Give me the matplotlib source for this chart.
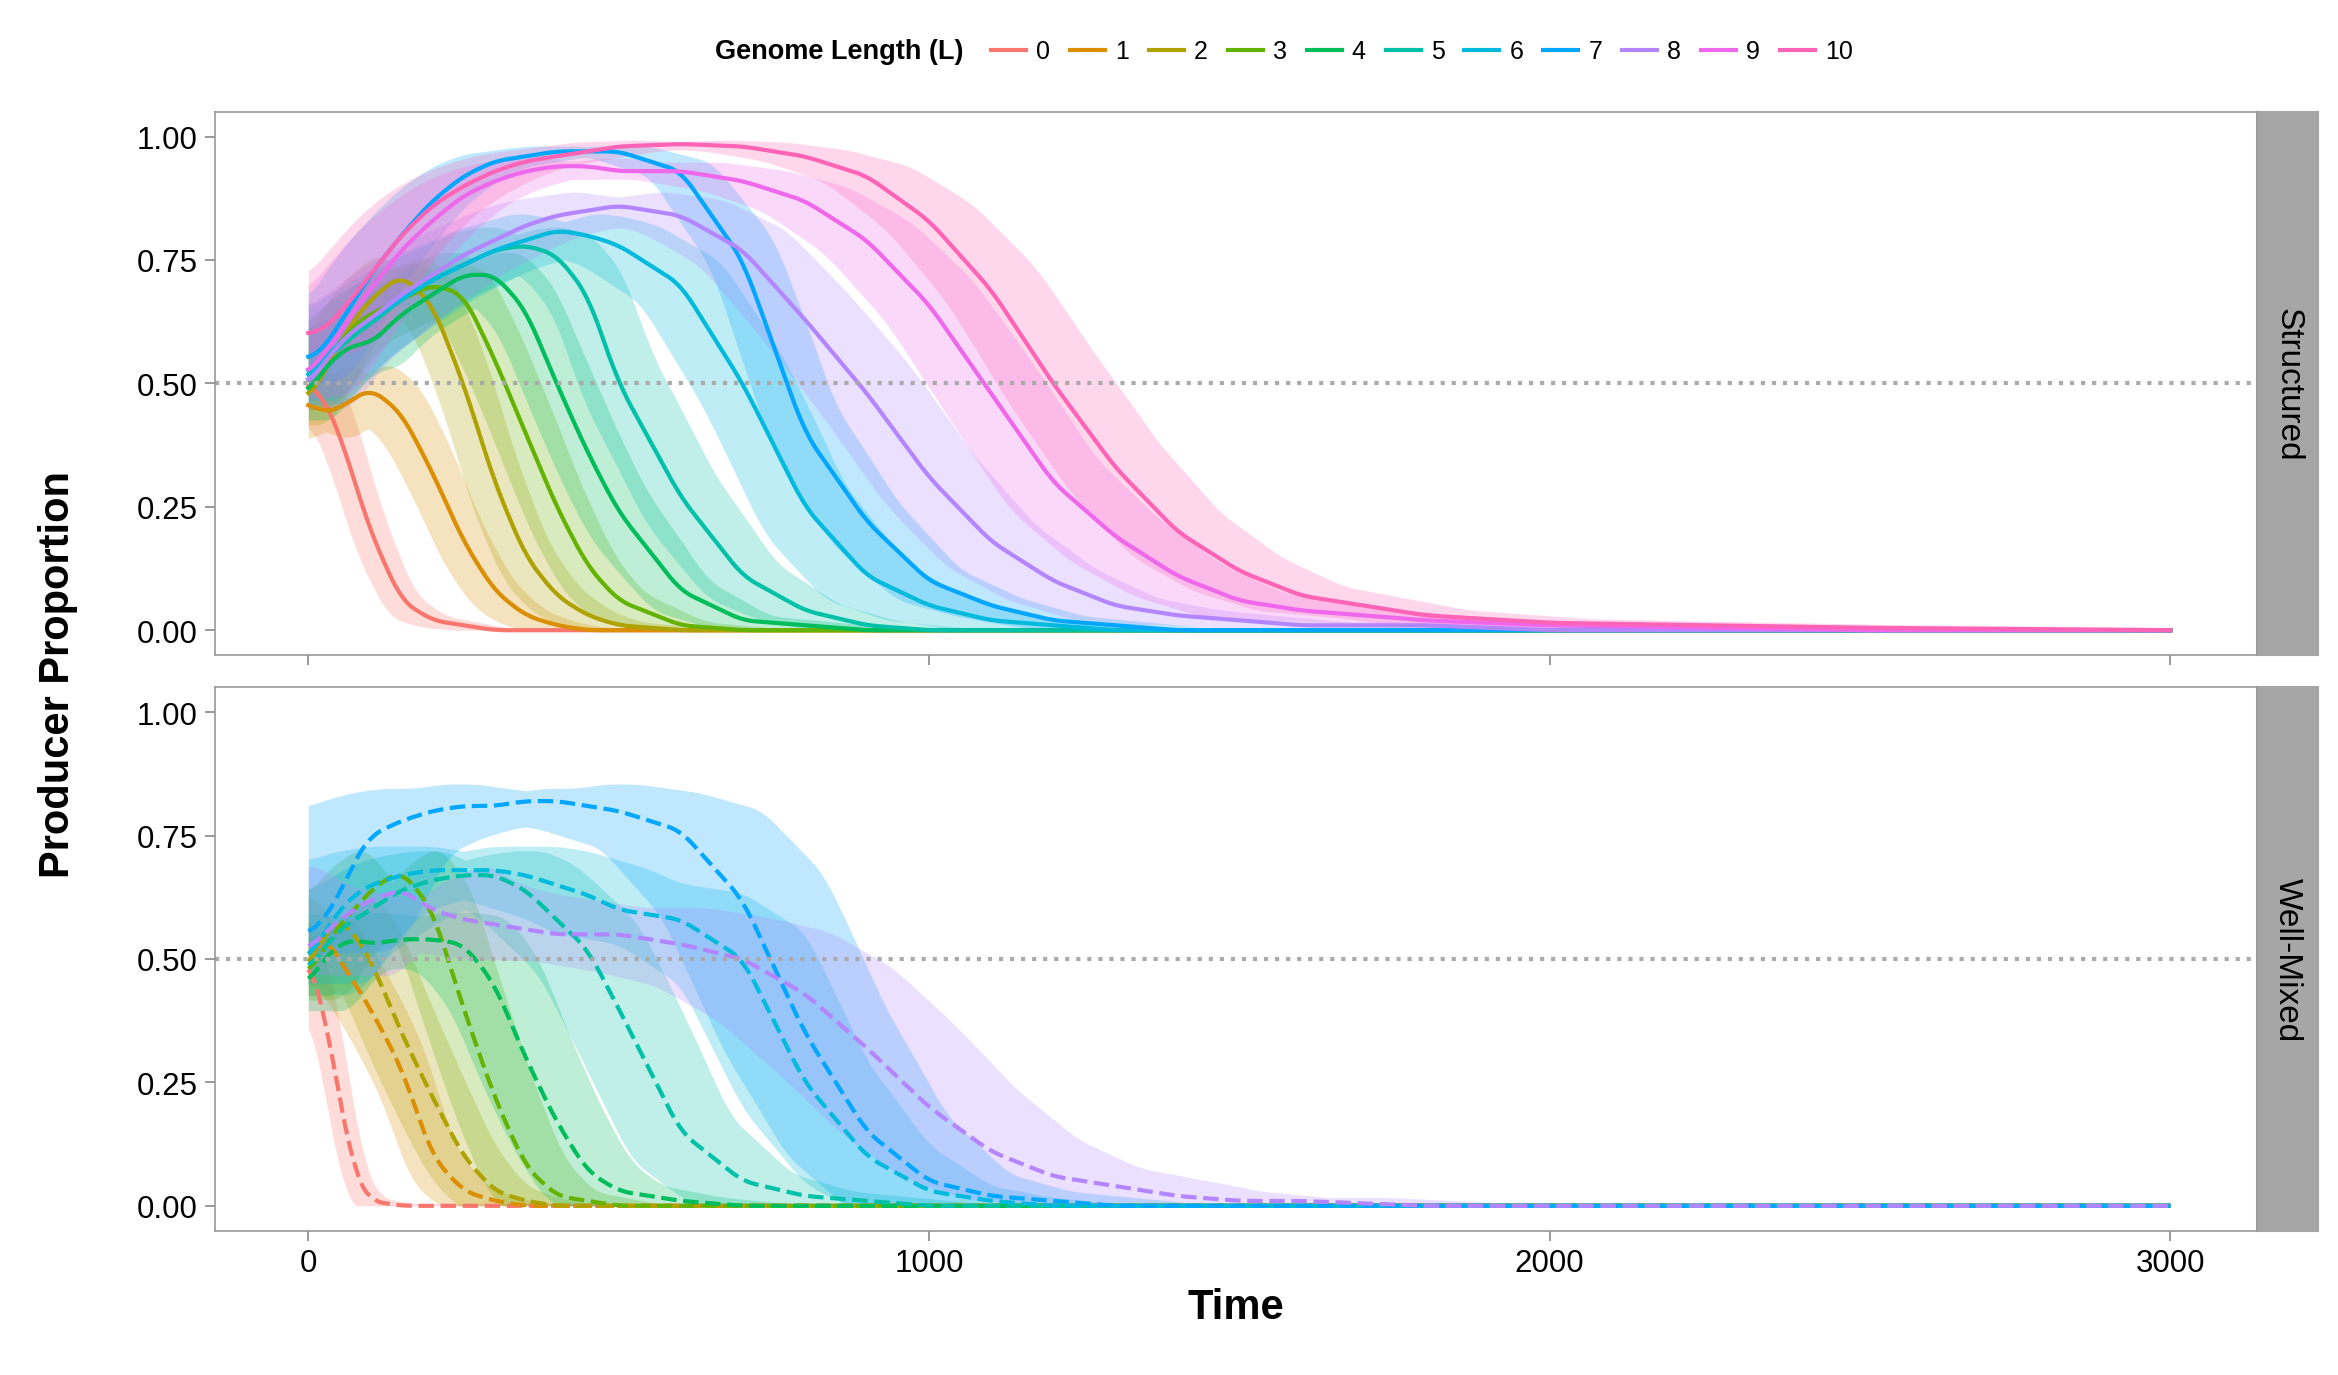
import numpy as np
import matplotlib.pyplot as plt

# time grid the curves were read at
t = [0, 25, 50, 75, 100, 150, 200, 250, 300, 350, 400, 450, 500, 600, 700, 800,
     900, 1000, 1100, 1200, 1300, 1400, 1500, 1600, 1800, 2000, 2500, 3000]

lengths = list(range(11))
colors = ['#F8766D', '#DB8E00', '#AEA200', '#64B200', '#00BD5C', '#00C1A7',
          '#00BADE', '#00A6FF', '#B385FF', '#EF67EB', '#FF63B6']

structured = {
    0: [0.50, 0.47, 0.40, 0.30, 0.20, 0.06, 0.02, 0.01, 0, 0, 0, 0, 0, 0, 0, 0, 0, 0, 0, 0, 0, 0, 0, 0, 0, 0, 0, 0],
    1: [0.46, 0.44, 0.45, 0.47, 0.49, 0.44, 0.32, 0.18, 0.08, 0.03, 0.01, 0, 0, 0, 0, 0, 0, 0, 0, 0, 0, 0, 0, 0, 0, 0, 0, 0],
    2: [0.47, 0.52, 0.58, 0.63, 0.67, 0.72, 0.66, 0.50, 0.30, 0.15, 0.07, 0.03, 0.01, 0, 0, 0, 0, 0, 0, 0, 0, 0, 0, 0, 0, 0, 0, 0],
    3: [0.50, 0.54, 0.58, 0.62, 0.64, 0.67, 0.70, 0.68, 0.55, 0.40, 0.25, 0.13, 0.06, 0.01, 0, 0, 0, 0, 0, 0, 0, 0, 0, 0, 0, 0, 0, 0],
    4: [0.48, 0.53, 0.56, 0.58, 0.58, 0.64, 0.68, 0.72, 0.72, 0.65, 0.50, 0.36, 0.24, 0.08, 0.02, 0.01, 0, 0, 0, 0, 0, 0, 0, 0, 0, 0, 0, 0],
    5: [0.52, 0.55, 0.57, 0.60, 0.62, 0.67, 0.71, 0.74, 0.77, 0.78, 0.76, 0.68, 0.50, 0.27, 0.11, 0.04, 0.01, 0, 0, 0, 0, 0, 0, 0, 0, 0, 0, 0],
    6: [0.51, 0.55, 0.58, 0.61, 0.63, 0.67, 0.71, 0.74, 0.77, 0.79, 0.81, 0.80, 0.78, 0.70, 0.50, 0.25, 0.11, 0.05, 0.02, 0.01, 0, 0, 0, 0, 0, 0, 0, 0],
    7: [0.55, 0.57, 0.62, 0.67, 0.72, 0.80, 0.87, 0.92, 0.95, 0.96, 0.97, 0.97, 0.97, 0.93, 0.75, 0.40, 0.22, 0.10, 0.05, 0.02, 0.01, 0, 0, 0, 0, 0, 0, 0],
    8: [0.50, 0.54, 0.58, 0.61, 0.63, 0.68, 0.72, 0.76, 0.79, 0.82, 0.84, 0.85, 0.86, 0.84, 0.77, 0.63, 0.48, 0.31, 0.18, 0.10, 0.05, 0.03, 0.02, 0.01, 0.01, 0, 0, 0],
    9: [0.52, 0.56, 0.60, 0.65, 0.69, 0.77, 0.83, 0.88, 0.91, 0.93, 0.94, 0.94, 0.93, 0.93, 0.91, 0.87, 0.79, 0.66, 0.48, 0.30, 0.19, 0.11, 0.06, 0.04, 0.02, 0.01, 0, 0],
    10: [0.60, 0.61, 0.64, 0.68, 0.72, 0.80, 0.86, 0.90, 0.93, 0.95, 0.96, 0.97, 0.98, 0.985, 0.98, 0.96, 0.92, 0.83, 0.69, 0.50, 0.33, 0.20, 0.12, 0.07, 0.03, 0.015, 0.005, 0],
}

wellmixed = {
    0: [0.50, 0.40, 0.22, 0.06, 0.01, 0, 0, 0, 0, 0, 0, 0, 0, 0, 0, 0, 0, 0, 0, 0, 0, 0, 0, 0, 0, 0, 0, 0],
    1: [0.50, 0.55, 0.50, 0.45, 0.40, 0.28, 0.10, 0.03, 0.01, 0, 0, 0, 0, 0, 0, 0, 0, 0, 0, 0, 0, 0, 0, 0, 0, 0, 0, 0],
    2: [0.48, 0.55, 0.58, 0.55, 0.50, 0.35, 0.22, 0.10, 0.03, 0.01, 0, 0, 0, 0, 0, 0, 0, 0, 0, 0, 0, 0, 0, 0, 0, 0, 0, 0],
    3: [0.47, 0.52, 0.57, 0.60, 0.64, 0.68, 0.60, 0.40, 0.22, 0.08, 0.02, 0.01, 0, 0, 0, 0, 0, 0, 0, 0, 0, 0, 0, 0, 0, 0, 0, 0],
    4: [0.45, 0.50, 0.53, 0.54, 0.53, 0.54, 0.54, 0.53, 0.45, 0.30, 0.17, 0.07, 0.03, 0.01, 0, 0, 0, 0, 0, 0, 0, 0, 0, 0, 0, 0, 0, 0],
    5: [0.48, 0.52, 0.56, 0.58, 0.60, 0.64, 0.66, 0.67, 0.67, 0.64, 0.58, 0.52, 0.40, 0.15, 0.05, 0.02, 0.01, 0, 0, 0, 0, 0, 0, 0, 0, 0, 0, 0],
    6: [0.50, 0.55, 0.60, 0.63, 0.65, 0.67, 0.68, 0.68, 0.68, 0.67, 0.65, 0.63, 0.60, 0.58, 0.50, 0.25, 0.10, 0.03, 0.01, 0, 0, 0, 0, 0, 0, 0, 0, 0],
    7: [0.55, 0.58, 0.63, 0.70, 0.75, 0.78, 0.80, 0.81, 0.81, 0.82, 0.82, 0.81, 0.80, 0.76, 0.62, 0.35, 0.15, 0.05, 0.02, 0.01, 0, 0, 0, 0, 0, 0, 0, 0],
    8: [0.52, 0.55, 0.58, 0.60, 0.62, 0.64, 0.60, 0.58, 0.57, 0.56, 0.55, 0.55, 0.55, 0.53, 0.50, 0.43, 0.32, 0.20, 0.11, 0.06, 0.04, 0.02, 0.01, 0.01, 0, 0, 0, 0],
}

# horizontal spread of the shaded bands (time units)
band_dt_struct = [20, 30, 35, 40, 45, 55, 65, 50, 70, 70, 70]
band_dt_mixed = [15, 35, 50, 60, 70, 80, 100, 130, 140]

plt.rcParams['font.family'] = ['Liberation Sans', 'DejaVu Sans']
fig, axes = plt.subplots(2, 1, figsize=(15.593, 9.173), dpi=150, sharex=True)
fig.subplots_adjust(left=0.092, right=0.965, top=0.918, bottom=0.105, hspace=0.06)

tt = np.array(t, dtype=float)
fine = np.linspace(0, 3000, 1501)
kernel = np.ones(21) / 21

def smooth(y):
    p = np.pad(y, 10, mode='edge')
    return np.convolve(p, kernel, mode='valid')

def draw(ax, data, dts, ls, label):
    for L, vals in data.items():
        v = np.array(vals)
        dt = dts[L]
        a = smooth(np.interp(fine - dt, tt, v))
        b = smooth(np.interp(fine + dt, tt, v))
        lo, hi = np.minimum(a, b), np.maximum(a, b)
        pad = 0.2 * hi * (1 - hi) + 0.005
        ax.fill_between(fine, np.clip(lo - pad, 0, 1), np.clip(hi + pad, 0, 1),
                        color=colors[L], alpha=0.25, lw=0)
    for L, vals in data.items():
        ax.plot(fine, smooth(np.interp(fine, tt, vals)), color=colors[L], lw=2,
                ls=ls)
    ax.axhline(0.5, color='#aaaaaa', ls=':', lw=2)
    ax.set_xlim(-150, 3140)
    ax.set_ylim(-0.05, 1.05)
    ax.set_yticks([0, 0.25, 0.5, 0.75, 1.0])
    ax.set_yticklabels(['0.00', '0.25', '0.50', '0.75', '1.00'])
    ax.tick_params(labelsize=15, color='#888888', length=5)
    for s in ax.spines.values():
        s.set_color('#999999')
    strip = plt.Rectangle((1.0, 0), 0.03, 1, transform=ax.transAxes, color='#a6a6a6',
                          clip_on=False)
    ax.add_patch(strip)
    ax.text(1.015, 0.5, label, transform=ax.transAxes, rotation=270, ha='center',
            va='center', fontsize=16)

draw(axes[0], structured, band_dt_struct, '-', 'Structured')
draw(axes[1], wellmixed, band_dt_mixed, '--', 'Well-Mixed')
axes[1].set_xticks([0, 1000, 2000, 3000])
axes[1].set_xlabel('Time', fontsize=20, fontweight='bold')
fig.text(0.025, 0.51, 'Producer Proportion', rotation=90, fontsize=20,
         fontweight='bold', ha='center', va='center')

handles = [plt.Line2D([], [], color=c, lw=2) for c in colors]
fig.text(0.412, 0.962, 'Genome Length (L)', fontsize=13, fontweight='bold',
         ha='right', va='center')
fig.legend(handles, [str(L) for L in lengths], loc='center left', ncol=11,
           bbox_to_anchor=(0.414, 0.962), frameon=False, fontsize=12,
           handlelength=1.4, columnspacing=0.8, handletextpad=0.4)
fig.savefig('out.png', dpi=150)
